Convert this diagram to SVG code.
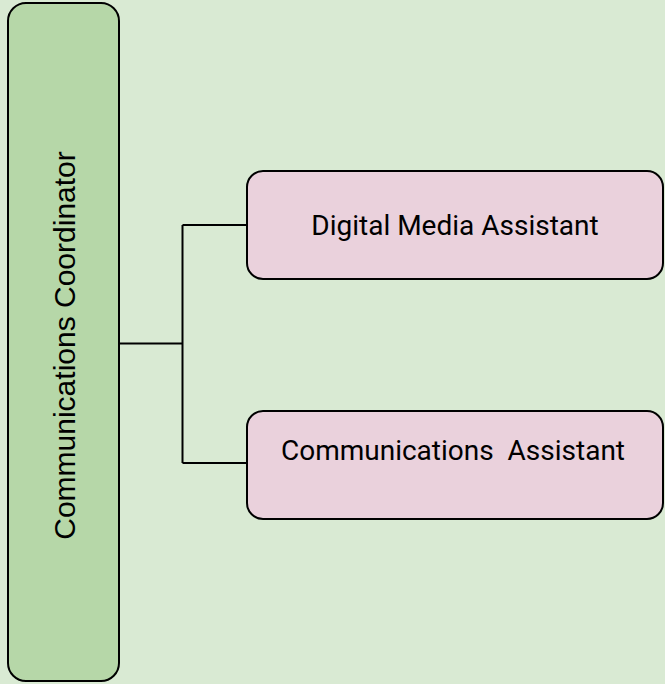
<svg xmlns="http://www.w3.org/2000/svg" width="665" height="684" viewBox="0 0 665 684">
<style>
.node{stroke:#000;stroke-width:2}
.green{fill:#b6d7a8}
.pink{fill:#ead1dc}
.conn{fill:none;stroke:#000;stroke-width:2}
.lbl{font-family:Roboto,"Liberation Sans",sans-serif;font-size:28px;fill:#000}
.vlbl{font-family:"Liberation Sans",Arial,sans-serif;font-size:30px;fill:#000}
</style>
<rect width="665" height="684" fill="#d9ead3"/>
<g id="connectors">
<path class="conn" d="M119,343.5 H182.5 M182.5,225 V463 M182.5,225 H247 M182.5,463 H247"/>
</g>
<g id="node-coordinator">
<rect class="node green" x="8" y="3" width="111" height="678" rx="18"/>
<text class="vlbl" transform="translate(75,345.5) rotate(-90)" text-anchor="middle">Communications Coordinator</text>
</g>
<g id="node-digital">
<rect class="node pink" x="247" y="171" width="416" height="108" rx="16"/>
<text class="lbl" x="455" y="235" text-anchor="middle">Digital Media Assistant</text>
</g>
<g id="node-comms">
<rect class="node pink" x="247" y="411" width="416" height="108" rx="16"/>
<text class="lbl" x="453" y="460" text-anchor="middle" xml:space="preserve">Communications  Assistant</text>
</g>
</svg>
